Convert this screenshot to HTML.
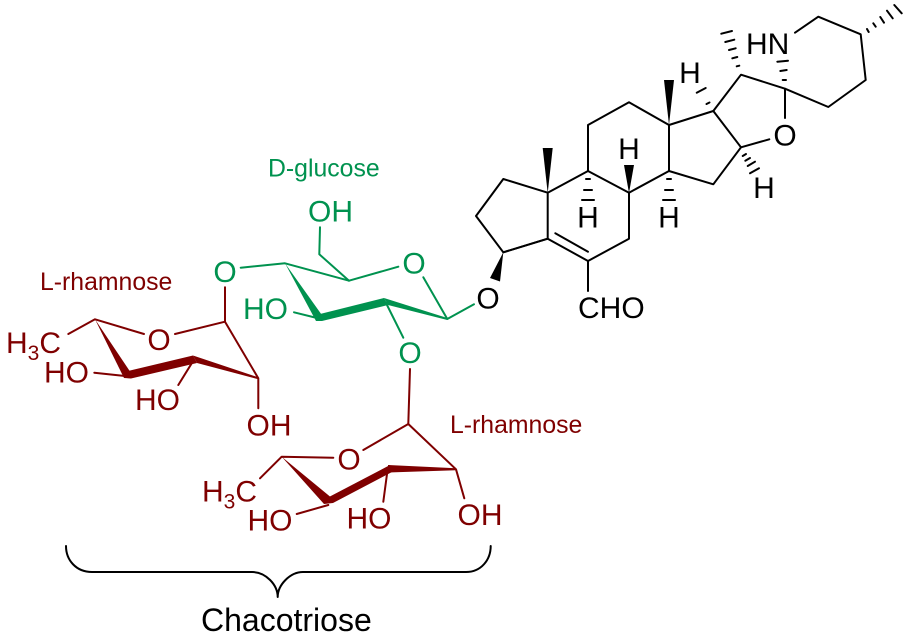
<!DOCTYPE html>
<html><head><meta charset="utf-8"><style>html,body{margin:0;padding:0;background:#fff}svg{display:block}
text{font-family:"Liberation Sans",sans-serif;font-size:30px}
.k{stroke:#000;fill:none}.g{stroke:#00924f;fill:none}.r{stroke:#7f0000;fill:none}
</style></head><body>
<svg width="907" height="639" viewBox="0 0 907 639" xmlns="http://www.w3.org/2000/svg">
<g class="k" stroke-width="2" stroke-linejoin="round" stroke-linecap="round">
<polyline points="547.7,192.7 503.3,179 476,216 503.3,252.3 547.7,238.7 547.7,192.7 588,171 629,192.7 669,171 669,125 629,102.3 588,125 588,171"/>
<polyline points="547.7,238.7 588,261 629,238.7 629,192.7"/>
<line x1="555.3" y1="233.3" x2="588" y2="251.7"/>
<line x1="588" y1="261" x2="588" y2="291"/>
<polyline points="503.3,252.3 547.7,238.7"/>
<polyline points="669,171 713.3,184.3 741,147.3 713.3,111 669,125"/>
<polyline points="713.3,111 741,74.7 785,88.7 828.3,107 865.7,80 860.7,34.3 818.3,16.7 795,32.7"/>
<line x1="741" y1="147.3" x2="769.3" y2="139.3"/>
<line x1="785" y1="88.7" x2="785" y2="118"/>
<!-- hashes -->
<path d="M586,179h4M584,190h8M582,200h12M667,179h4M665,190h8M663,200h12"/>
<path d="M736.7,66.3L739.3,65.7M732.3,58.3L737.3,57M729,50L735.7,48.3M725.3,42L734.3,39.7M721.3,33.7L732,31"/>
<path d="M782.7,80L786,80M780.3,71L786.7,70M777.3,61.7L788,60.7"/>
<path d="M867,29L868.7,32M873.3,23.3L875.7,26.7M880.3,17L884,22.7M887,10.7L892.7,18.3M894.3,5L901.7,13.3"/>
<path d="M706.5,104L709.5,102.5M696.7,92.7L705.7,88"/>
<path d="M742.7,156L746,154M745.3,160.7L750,158M747.7,166L755,161.7M750,173.3L759,168.3"/>
<!-- brace -->
<path d="M66,546C66,560 76,572 92,572L252,572C266,572 277.7,585 277.7,597C277.7,585 290,572 303,572L466,572C481,572 490.7,560 490.7,546"/>
</g>
<g fill="#000">
<polygon points="547.7,193 542.7,148 552.7,148"/>
<polygon points="669,125 664,80 674,80"/>
<polygon points="629,193 624,165 634,165"/>
<polygon points="503.3,252.3 490,278 500,281.5"/>
</g>
<g fill="#000">
<text x="488" y="308.500" text-anchor="middle">O</text>
<text x="785" y="145.500" text-anchor="middle">O</text>
<text x="578" y="318">CHO</text>
<text x="746" y="54">HN</text>
<text x="588" y="227.700" text-anchor="middle">H</text>
<text x="669" y="227.700" text-anchor="middle">H</text>
<text x="629" y="159" text-anchor="middle">H</text>
<text x="690" y="83" text-anchor="middle">H</text>
<text x="764" y="198" text-anchor="middle">H</text>
<text x="201" y="631" style="font-size:32px">Chacotriose</text>
</g>
<!-- green -->
<g class="g" stroke-width="2" stroke-linecap="round" stroke-linejoin="round">
<polyline points="240.700,267.700 285,263.300 349,280.700 398.300,266.700"/>
<polyline points="423.300,277.300 447.300,319 474,304.300"/>
<polyline points="349,280.700 319.300,254.300 320,227.300"/>
<line x1="294" y1="312.300" x2="317" y2="318"/>
<line x1="386" y1="303" x2="403.300" y2="337.700"/>
</g>
<g fill="#00924f">
<polygon points="285,263.300 316,321 324,318"/>
<polygon points="316,321 322,321 388,305 384,298 320,314"/>
<polygon points="384,298 388,305 447.300,320 447.300,318"/>
<text x="225" y="282" text-anchor="middle">O</text>
<text x="414" y="273.500" text-anchor="middle">O</text>
<text x="410" y="363" text-anchor="middle">O</text>
<text x="308" y="221.700">OH</text>
<text x="243" y="319">HO</text>
<text x="268" y="176.700" style="font-size:24.800px">D-glucose</text>
</g>
<!-- red -->
<g class="r" stroke-width="2" stroke-linecap="round" stroke-linejoin="round">
<polyline points="225,287.300 225,321.700 175,334"/>
<polyline points="144,334 95,319.300 68.300,334"/>
<polyline points="225,321.700 258.300,378.300 258.300,408.300"/>
<line x1="94.300" y1="372.700" x2="125" y2="376"/>
<line x1="191.700" y1="363.300" x2="178.300" y2="385"/>
<line x1="410" y1="369" x2="408.300" y2="424"/>
<polyline points="363.300,450 408.300,424 456,469.300 464.300,498.300"/>
<polyline points="333.300,457.700 281.700,456.700 260,478.300"/>
<line x1="296.700" y1="514" x2="328.300" y2="505"/>
<line x1="383.300" y1="501.700" x2="387.300" y2="471.700"/>
</g>
<g fill="#7f0000">
<polygon points="95,319.300 124,378 133,376"/>
<polygon points="124,378 131,378.500 197,363 193,355.500 128,371"/>
<polygon points="193,355.500 197,363 258.300,379.300 258.300,377.300"/>
<polygon points="281.700,456.700 324,504 333,499"/>
<polygon points="324,504 333,503 392,472 390,465 327,498"/>
<polygon points="388,465 388,472.500 456,470.300 456,468.300"/>
<text x="159" y="349.800" text-anchor="middle">O</text>
<text x="349" y="469.500" text-anchor="middle">O</text>
<text x="6" y="353">H<tspan dy="7" style="font-size:21px">3</tspan><tspan dy="-7">C</tspan></text>
<text x="202" y="501.700">H<tspan dy="7" style="font-size:21px">3</tspan><tspan dy="-7">C</tspan></text>
<text x="44" y="382.700">HO</text>
<text x="135" y="410">HO</text>
<text x="246.500" y="435.700">OH</text>
<text x="247.500" y="530.700">HO</text>
<text x="346.500" y="528.300">HO</text>
<text x="457.500" y="525">OH</text>
<text x="40" y="290" style="font-size:24.800px">L-rhamnose</text>
<text x="450" y="433" style="font-size:24.800px">L-rhamnose</text>
</g>
</svg>
</body></html>
